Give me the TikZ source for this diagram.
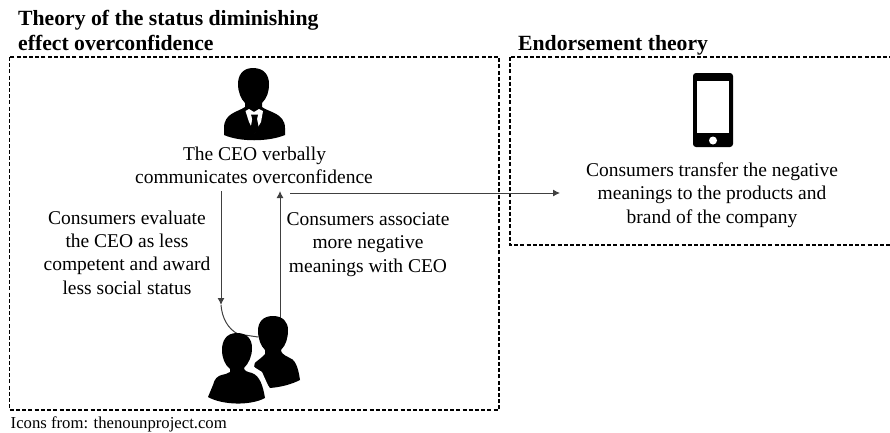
\documentclass[tikz,border=0pt]{standalone}
\usepackage{fontspec}
\setmainfont{Liberation Serif}
\usetikzlibrary{arrows.meta}
\tikzset{
 box/.style={draw=black,line width=1.3pt,dash pattern=on 4pt off 2.2pt},
 body/.style={inner sep=0pt,align=center,anchor=base,font=\fontsize{19.5}{23.3}\selectfont},
 head/.style={inner sep=0pt,anchor=base west,font=\fontsize{21.7}{25}\selectfont\bfseries},
 conn/.style={draw=black!75,line width=1pt,-{Latex[length=7pt,width=7pt]}},
 icon/.style={fill=black,draw=none}
}
\begin{document}
\begin{tikzpicture}[x=1pt,y=-1pt]
\useasboundingbox (0,0) rectangle (890,432);
% frames
\coordinate (fa) at (9.5,57); \coordinate (fb) at (499,410);
\coordinate (fc) at (510,57); \coordinate (fd) at (895,245);
\draw[box] (fa) rectangle (fb);
\draw[box] (fc) rectangle (fd);
% headings
\node[head] (h1) at (18,25) {Theory of the status diminishing};
\node[head] (h2) at (18,50) {effect overconfidence};
\node[head] (h3) at (518,50) {Endorsement theory};
% CEO icon
\fill[icon] (253,68) .. controls (242,68) and (238,76) .. (238,84) .. controls (238,92) and (241,99) .. (245,103) -- (245,107) .. controls (238,112) and (224,113) .. (224,128) -- (224,135) .. controls (240,142) and (268,142) .. (285,135) -- (285,128) .. controls (285,113) and (268,112) .. (262,107) -- (262,103) .. controls (267,98) and (269,92) .. (269,84) .. controls (269,75) and (264,68) .. (253,68) -- cycle;
\fill[white] (245.5,111) -- (249,109) -- (254,112) -- (259,109) -- (263,111) -- (261,122) -- (254.5,133) -- (249,122) -- cycle;
\fill[icon] (251,114.5) -- (258,114.5) -- (257,119) -- (259,129) -- (254.5,133) -- (250.5,129) -- (252.3,119) -- cycle;
% phone
\fill[icon,rounded corners=3pt] (693,73) rectangle (733,147);
\fill[white] (697,80.5) rectangle (729,133);
\fill[white] (713,140.5) circle (4pt);
% texts
\node[body] (t1) at (254.5,160) {The CEO verbally};
\node[body] (t2) at (254,183) {communicates overconfidence};
\node[body] (t3) at (127,294) {Consumers evaluate\\the CEO as less\\competent and award\\less social status};
\node[body] (t4) at (368,272) {Consumers associate\\more negative\\meanings with CEO};
\node[body] (t5) at (712,223) {Consumers transfer the negative\\meanings to the products and\\brand of the company};
\node[inner sep=0pt,anchor=base west,font=\fontsize{16.7}{18}\selectfont] (src) at (10.5,428) {Icons from: thenounproject.com};
% connector anchors
\coordinate (aS) at (221,191);
\coordinate (aE) at (221,305);
\coordinate (aC) at (258,337);
\coordinate (bS) at (280,318);
\coordinate (bE) at (280,191);
\coordinate (cS) at (290,193);
\coordinate (cE) at (560,193);
\draw[conn] (aS) -- (aE);
\draw[conn] (bS) -- (bE);
\draw[conn] (cS) -- (cE);
% consumers icon
\fill[icon] (273,316) .. controls (263,316) and (258,322) .. (258,331) .. controls (258,339) and (261,346) .. (265,350) -- (265,354) .. controls (262,358) and (256,361) .. (253,365) -- (270,388) .. controls (282,387) and (292,384) .. (300,380) .. controls (298,366) and (295,359) .. (288,357) .. controls (284,355) and (281,353) .. (281,350) .. controls (286,345) and (288,338) .. (288,330) .. controls (288,322) and (283,316) .. (273,316) -- cycle;
\fill[white] (237,330) .. controls (224,330) and (219,339) .. (219,350) .. controls (219,358) and (222,364) .. (226,369) -- (204,397) -- (262,410) -- (271,392) -- (262,372) -- (254,367) .. controls (256,358) and (256,345) .. (254,338) .. controls (251,332) and (246,330) .. (237,330) -- cycle;
\draw[conn,-] (aE) .. controls (222,318) and (228,329) .. (238,334) -- (aC);
\fill[icon] (237,333) .. controls (226,333) and (222,341) .. (222,350) .. controls (222,358) and (225,365) .. (230,369) -- (230,372) .. controls (226,376) and (216,372) .. (213,385) -- (208,397) .. controls (222,405) and (250,406) .. (265,398) .. controls (263,386) and (260,376) .. (252,373) .. controls (248,372) and (244,371) .. (244,368) .. controls (249,363) and (252,356) .. (252,348) .. controls (252,339) and (247,333) .. (237,333) -- cycle;
\end{tikzpicture}
\end{document}
